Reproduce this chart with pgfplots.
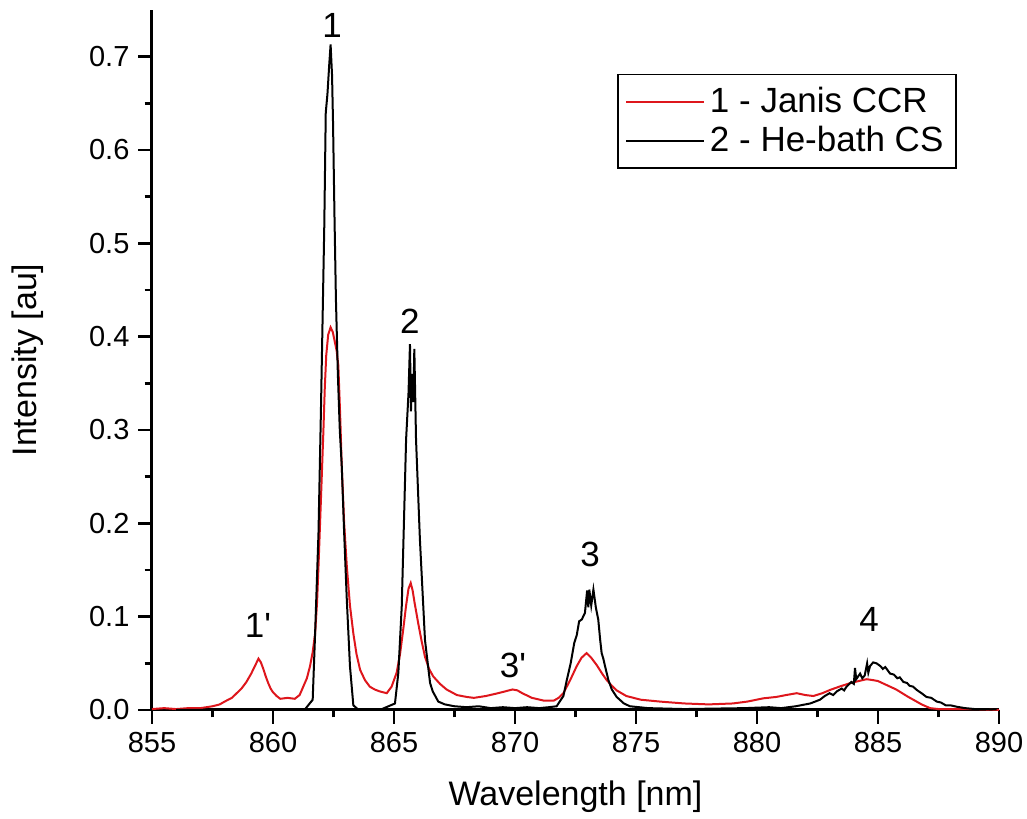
\documentclass[border=0pt]{standalone}
\usepackage{fontspec}
\setmainfont{Liberation Sans}
\usepackage{pgfplots}
\pgfplotsset{compat=1.18}
\definecolor{ccr}{RGB}{222,22,28}

\pgfplotstableread{
x y
855.0 0.001
855.5 0.002
856.0 0.001
856.5 0.002
857.0 0.002
857.5 0.004
857.8 0.006
858.0 0.009
858.3 0.013
858.5 0.018
858.7 0.023
858.9 0.030
859.1 0.039
859.25 0.047
859.4 0.055
859.5 0.051
859.6 0.044
859.7 0.036
859.8 0.029
859.9 0.023
860.0 0.019
860.15 0.015
860.3 0.012
860.6 0.013
860.9 0.012
861.1 0.016
861.25 0.025
861.4 0.034
861.53 0.047
861.64 0.062
861.74 0.082
861.82 0.115
861.88 0.154
861.98 0.225
862.08 0.297
862.14 0.345
862.2 0.380
862.28 0.402
862.38 0.410
862.47 0.405
862.55 0.395
862.63 0.385
862.7 0.369
862.77 0.320
862.84 0.262
862.94 0.200
863.05 0.154
863.18 0.112
863.32 0.082
863.45 0.060
863.6 0.043
863.8 0.032
864.0 0.025
864.2 0.022
864.4 0.020
864.7 0.018
864.9 0.025
865.11 0.040
865.25 0.060
865.38 0.086
865.5 0.112
865.6 0.130
865.69 0.136
865.77 0.128
865.85 0.115
866.0 0.093
866.14 0.074
866.28 0.057
866.45 0.044
866.62 0.036
866.9 0.028
867.17 0.022
867.6 0.016
868.0 0.014
868.3 0.013
868.8 0.015
869.3 0.018
869.6 0.020
869.9 0.022
870.1 0.021
870.3 0.018
870.7 0.013
871.2 0.010
871.6 0.010
871.8 0.013
872.0 0.018
872.28 0.032
872.55 0.047
872.75 0.056
872.96 0.061
873.15 0.056
873.38 0.048
873.6 0.039
873.79 0.032
874.0 0.026
874.2 0.021
874.6 0.015
875.2 0.011
876.0 0.009
877.0 0.007
878.0 0.006
879.0 0.007
879.6 0.009
880.26 0.0125
880.8 0.014
881.2 0.016
881.64 0.018
882.0 0.016
882.33 0.015
882.7 0.018
883.02 0.0215
883.4 0.025
883.84 0.0287
884.2 0.031
884.53 0.033
884.8 0.032
885.0 0.031
885.25 0.028
885.5 0.025
885.75 0.022
886.0 0.018
886.25 0.014
886.46 0.011
886.8 0.006
887.15 0.002
887.5 0.001
888.0 0.001
889.0 0.001
890.0 0.000
}\ccrdata

\pgfplotstableread{
x y
856.0 0.000
861.3 0.000
861.64 0.011
861.74 0.082
861.88 0.190
861.98 0.320
862.05 0.420
862.12 0.520
862.18 0.640
862.25 0.660
862.32 0.690
862.38 0.713
862.44 0.680
862.48 0.630
862.54 0.530
862.60 0.440
862.68 0.360
862.76 0.300
862.84 0.262
862.94 0.190
863.05 0.118
863.18 0.047
863.32 0.005
863.5 0.001
864.5 0.001
865.04 0.007
865.18 0.040
865.32 0.111
865.50 0.290
865.60 0.340
865.66 0.392
865.70 0.320
865.75 0.360
865.80 0.330
865.84 0.387
865.91 0.290
866.07 0.183
866.28 0.075
866.49 0.029
866.6 0.020
866.83 0.009
867.1 0.006
867.5 0.004
868.0 0.003
868.5 0.004
869.0 0.002
869.5 0.003
870.0 0.002
870.5 0.003
871.0 0.002
871.4 0.003
871.72 0.004
872.0 0.015
872.14 0.032
872.30 0.050
872.45 0.072
872.55 0.080
872.65 0.095
872.76 0.097
872.89 0.104
872.98 0.128
873.03 0.110
873.07 0.129
873.15 0.112
873.24 0.129
873.34 0.110
873.44 0.097
873.52 0.075
873.58 0.061
873.65 0.055
873.72 0.047
873.86 0.032
874.0 0.022
874.2 0.014
874.5 0.007
874.75 0.004
875.5 0.002
877.0 0.001
879.5 0.002
880.5 0.003
881.0 0.002
881.6 0.004
882.2 0.007
882.6 0.011
882.8 0.015
883.0 0.018
883.15 0.016
883.3 0.020
883.5 0.023
883.6 0.021
883.7 0.025
883.9 0.030
884.0 0.028
884.05 0.045
884.1 0.033
884.26 0.039
884.35 0.034
884.45 0.037
884.55 0.050
884.6 0.040
884.67 0.047
884.8 0.051
884.94 0.050
885.1 0.047
885.2 0.044
885.3 0.046
885.5 0.039
885.65 0.038
885.8 0.034
885.9 0.035
886.05 0.030
886.2 0.029
886.3 0.026
886.45 0.025
886.6 0.0215
886.8 0.018
887.0 0.014
887.2 0.013
887.43 0.009
887.6 0.008
887.8 0.005
888.0 0.005
888.25 0.0035
888.6 0.002
889.0 0.001
889.9 0.0007
}\hebathdata

\begin{document}
\begin{tikzpicture}
\begin{axis}[
    scale only axis,
    width=338.8pt,
    height=280pt,
    xmin=855, xmax=890,
    ymin=0, ymax=0.75,
    axis lines=left,
    axis line style={-, line width=1.2pt},
    xtick={855,860,...,890},
    ytick={0,0.1,...,0.7},
    minor tick num=1,
    tick align=outside,
    major tick length=5.5pt,
    minor tick length=3pt,
    tick style={line width=1pt, black},
    /pgf/number format/assume math mode=true,
    yticklabel style={/pgf/number format/.cd, fixed, fixed zerofill, precision=1},
    xticklabel style={/pgf/number format/.cd, 1000 sep={}},
    tick label style={font=\fontsize{11.6}{13}\selectfont},
    every axis x label/.style={at={(rel axis cs:0.5,0)}, anchor=center, yshift=-34.8pt},
    every axis y label/.style={at={(rel axis cs:0,0.5)}, anchor=center, rotate=90, yshift=49.6pt},
    label style={font=\fontsize{13.6}{16}\selectfont},
    xlabel={Wavelength [nm]},
    ylabel={Intensity [au]},
    legend style={at={(rel axis cs:0.95,0.9086)}, anchor=north east,
        draw=black, line width=0.6pt, font=\fontsize{14}{16}\selectfont,
        inner xsep=3pt, inner ysep=3pt, row sep=0pt},
    legend cell align=left,
    legend image code/.code={\draw[#1] (0cm,0cm) -- (31pt,0cm);},
    clip=false,
]
\addplot[ccr, line width=0.8pt] table[x=x, y=y] {\ccrdata};
\addlegendentry{1 - Janis CCR}
\addplot[black, line width=0.8pt] table[x=x, y=y] {\hebathdata};
\addlegendentry{2 - He-bath CS}

\node[font=\fontsize{14}{16}\selectfont] at (axis cs:862.44,0.733) {1};
\node[font=\fontsize{14}{16}\selectfont] at (axis cs:865.66,0.417) {2};
\node[font=\fontsize{14}{16}\selectfont] at (axis cs:859.38,0.091) {1\textquotesingle};
\node[font=\fontsize{14}{16}\selectfont] at (axis cs:869.92,0.048) {3\textquotesingle};
\node[font=\fontsize{14}{16}\selectfont] at (axis cs:873.1,0.167) {3};
\node[font=\fontsize{14}{16}\selectfont] at (axis cs:884.63,0.097) {4};
\end{axis}
\pgfresetboundingbox
\path[use as bounding box] ([shift={(-60.8pt,-43.6pt)}]current axis.south west) rectangle ([shift={(11.2pt,4pt)}]current axis.north east);
\end{tikzpicture}
\end{document}
